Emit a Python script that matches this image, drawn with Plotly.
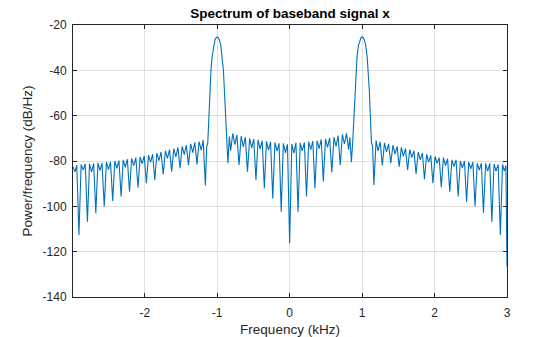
import plotly.graph_objects as go

# Frequency (kHz) and power (dB/Hz)
freq_neg = [-2.990, -2.963, -2.938, -2.908, -2.878, -2.849, -2.821, -2.791, -2.762, -2.733,
            -2.705, -2.675, -2.646, -2.617, -2.589, -2.559, -2.529, -2.500, -2.472, -2.442,
            -2.413, -2.384, -2.356, -2.326, -2.297, -2.268, -2.240, -2.210, -2.180, -2.151,
            -2.123, -2.093, -2.064, -2.035, -2.007, -1.977, -1.948, -1.919, -1.891, -1.861,
            -1.832, -1.803, -1.775, -1.745, -1.715, -1.686, -1.658, -1.628, -1.599, -1.570,
            -1.542, -1.512, -1.483, -1.454, -1.426, -1.396, -1.366, -1.337, -1.309, -1.279,
            -1.250, -1.221, -1.193, -1.163, -1.145, -1.130, -1.116, -1.100, -1.086, -1.070,
            -1.050, -1.030, -1.015, -1.000, -0.985, -0.970, -0.950, -0.930, -0.914, -0.900,
            -0.884, -0.870, -0.852, -0.832, -0.814, -0.785, -0.756, -0.728, -0.698, -0.669,
            -0.640, -0.612, -0.582, -0.552, -0.523, -0.495, -0.465, -0.436, -0.407, -0.379,
            -0.349, -0.320, -0.291, -0.263, -0.233, -0.203, -0.174, -0.146, -0.116, -0.087,
            -0.058, -0.030]
power_neg = [-82.5, -84.8, -81.8, -112.6, -81.5, -84.0, -81.2, -106.8, -81.3, -84.8,
             -81.0, -103.0, -80.8, -84.2, -81.0, -100.1, -80.5, -83.8, -80.4, -97.6,
             -80.0, -83.2, -79.8, -95.7, -79.5, -82.8, -79.2, -93.5, -78.8, -82.0,
             -78.5, -91.8, -78.2, -81.2, -77.8, -89.8, -77.4, -80.5, -77.0, -88.4,
             -76.5, -79.8, -76.0, -85.9, -75.5, -78.8, -75.0, -84.7, -74.5, -78.2,
             -74.0, -83.2, -73.5, -77.2, -73.0, -81.8, -72.4, -76.3, -71.8, -81.5,
             -71.4, -75.2, -70.8, -90.8, -73.8, -72.0, -62.0, -49.0, -40.0, -34.0,
             -29.0, -26.5, -25.6, -25.3, -25.6, -26.5, -29.0, -34.0, -40.0, -49.0,
             -62.0, -72.0, -81.0, -69.2, -75.5, -67.8, -72.8, -68.5, -81.8, -69.0,
             -73.8, -69.5, -84.7, -70.0, -74.2, -70.3, -88.4, -70.6, -74.8, -71.0,
             -92.0, -71.3, -75.2, -71.6, -96.5, -71.8, -75.6, -72.2, -102.4, -72.2,
             -76.4, -72.6]

freq_pos = [0.000, 0.030, 0.058, 0.087, 0.116, 0.146, 0.174, 0.203, 0.233, 0.263,
            0.291, 0.320, 0.349, 0.379, 0.407, 0.436, 0.465, 0.495, 0.523, 0.552,
            0.582, 0.612, 0.640, 0.669, 0.698, 0.728, 0.756, 0.785, 0.814, 0.832,
            0.852, 0.870, 0.884, 0.900, 0.914, 0.930, 0.950, 0.970, 0.985, 1.000,
            1.015, 1.030, 1.050, 1.070, 1.086, 1.100, 1.116, 1.130, 1.145, 1.163,
            1.193, 1.221, 1.250, 1.279, 1.309, 1.337, 1.366, 1.396, 1.426, 1.454,
            1.483, 1.512, 1.542, 1.570, 1.599, 1.628, 1.658, 1.686, 1.715, 1.745,
            1.775, 1.803, 1.832, 1.861, 1.891, 1.919, 1.948, 1.977, 2.007, 2.035,
            2.064, 2.093, 2.123, 2.151, 2.180, 2.210, 2.240, 2.268, 2.297, 2.326,
            2.356, 2.384, 2.413, 2.442, 2.472, 2.500, 2.529, 2.559, 2.589, 2.617,
            2.646, 2.675, 2.705, 2.733, 2.762, 2.791, 2.821, 2.849, 2.878, 2.908,
            2.938, 2.963, 2.985, 3.000]
power_pos = [-116.3, -72.5, -76.5, -72.0, -102.4, -72.0, -75.5, -71.8, -95.7, -71.5,
             -75.0, -71.2, -92.0, -71.0, -74.5, -70.5, -89.0, -70.2, -74.0, -69.8,
             -85.0, -69.5, -73.5, -68.8, -81.8, -68.3, -72.5, -67.8, -75.0, -69.5,
             -80.5, -72.0, -62.0, -49.0, -40.0, -34.0, -29.0, -26.5, -25.6, -25.3,
             -25.6, -26.5, -29.0, -34.0, -40.0, -49.0, -62.0, -72.0, -73.5, -90.6,
             -71.0, -75.5, -71.5, -82.0, -72.0, -76.0, -72.5, -81.0, -73.0, -77.0,
             -73.5, -82.5, -74.0, -78.0, -74.5, -84.0, -75.0, -78.5, -75.5, -85.7,
             -76.0, -79.5, -76.5, -88.0, -77.0, -80.5, -77.5, -89.8, -78.0, -81.0,
             -78.5, -91.6, -78.5, -82.0, -79.0, -93.5, -79.5, -82.5, -79.5, -95.7,
             -80.0, -83.0, -80.0, -98.0, -80.5, -83.5, -80.5, -100.0, -81.0, -84.0,
             -81.0, -102.8, -81.0, -84.5, -81.0, -106.8, -81.3, -84.5, -81.5, -112.6,
             -81.5, -84.5, -82.0, -126.5]

x_ticks = [-2, -1, 0, 1, 2, 3]
y_ticks = [-140, -120, -100, -80, -60, -40, -20]

freq = freq_neg + freq_pos
power = power_neg + power_pos

FONT = "Liberation Sans, Arial, Helvetica, sans-serif"
INK = "#262626"

fig = go.Figure()
fig.add_trace(go.Scatter(x=freq, y=power, mode="lines",
                         line=dict(color="#0072BD", width=1.1), hoverinfo="skip"))

axis_common = dict(
    showline=True, linecolor=INK, linewidth=1, mirror="ticks",
    ticks="inside", ticklen=4, tickwidth=1, tickcolor=INK,
    showgrid=True, gridcolor="#dfdfdf", gridwidth=1, zeroline=False,
    automargin=False,
    tickfont=dict(family=FONT, size=12, color=INK),
)

fig.update_layout(
    width=560, height=337,
    margin=dict(l=73, r=53, t=25, b=40),
    paper_bgcolor="white", plot_bgcolor="white",
    showlegend=False,
    title=dict(text="<b>Spectrum of baseband signal x</b>", x=0.518, xanchor="center",
               y=1 - 13 / 337, yanchor="middle", yref="container",
               font=dict(family=FONT, size=13.5, color="#000000")),
    xaxis=dict(range=[-2.99, 3.0], tickvals=x_ticks, ticktext=[str(v) for v in x_ticks],
               ticklabelstandoff=5,
               title=dict(text="Frequency (kHz)", standoff=7,
                          font=dict(family=FONT, size=13.5, color=INK)),
               **axis_common),
    yaxis=dict(range=[-140, -20], tickvals=y_ticks, ticktext=[str(v) for v in y_ticks],
               ticklabelstandoff=3,
               title=dict(text="Power/frequency (dB/Hz)", standoff=6,
                          font=dict(family=FONT, size=13.5, color=INK)),
               **axis_common),
)

fig.write_html("out.html")
